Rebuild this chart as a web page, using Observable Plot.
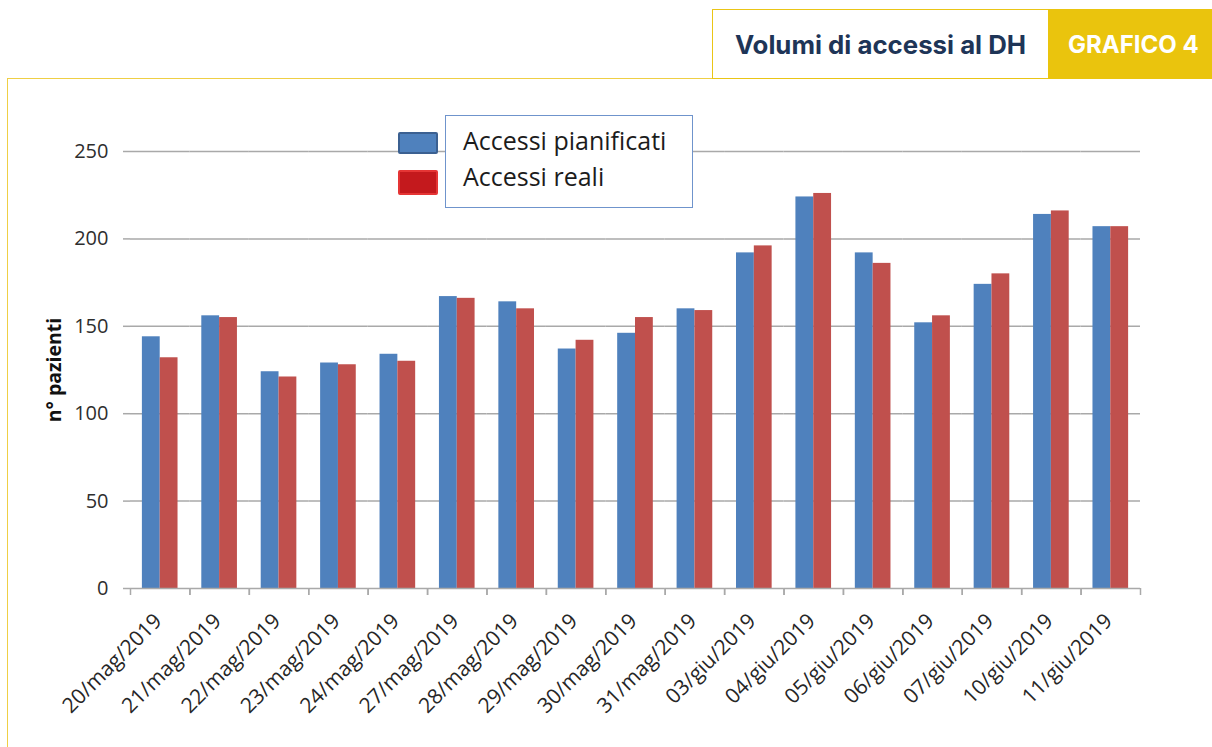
<!DOCTYPE html>
<html>
<head>
<meta charset="utf-8">
<script src="https://cdn.jsdelivr.net/npm/d3@7"></script>
<script src="https://cdn.jsdelivr.net/npm/@observablehq/plot@0.6"></script>
<style>
  html, body { margin: 0; padding: 0; background: #fff; }
  #page { position: relative; width: 1212px; height: 747px; overflow: hidden; background: #fff; }
  #frame { position: absolute; left: 7px; top: 78px; width: 1230px; height: 700px; border: 1.5px solid #efcf45; box-sizing: border-box; }
  #titlebox { position: absolute; left: 712px; top: 9px; width: 337px; height: 70px; border: 1.5px solid #eac516; box-sizing: border-box; background: #fff;
    font-family: Inter, "Open Sans", sans-serif; font-weight: 700; font-size: 25.8px; color: #1e3557; display: flex; align-items: center; justify-content: center; }
  #tag { position: absolute; left: 1048px; top: 9px; width: 170px; height: 70px; background: #eac40d;
    font-family: Inter, "Open Sans", sans-serif; font-weight: 700; font-size: 24px; color: #fff; display: flex; align-items: center; padding-left: 20px; box-sizing: border-box; }
  #chart { position: absolute; left: 0; top: 0; }
  #legend { position: absolute; left: 445px; top: 115px; width: 248px; height: 93px; border: 1.5px solid #6f94cc; box-sizing: border-box; background: #fff;
    font-family: "Open Sans", sans-serif; font-size: 25px; color: #1c1c1c; }
  .lt { position: absolute; left: 17px; white-space: nowrap; line-height: 1; }
  .sw { position: absolute; left: 398px; width: 40px; box-sizing: border-box; border-radius: 2px; }
</style>
</head>
<body>
<div id="page">
  <div id="frame"></div>
  <div id="chart"></div>
  <div id="titlebox">Volumi di accessi al DH</div>
  <div id="tag">GRAFICO 4</div>
  <div id="legendwrap"></div>
</div>
<script>
const dates = ["20/mag/2019","21/mag/2019","22/mag/2019","23/mag/2019","24/mag/2019","27/mag/2019","28/mag/2019","29/mag/2019","30/mag/2019","31/mag/2019","03/giu/2019","04/giu/2019","05/giu/2019","06/giu/2019","07/giu/2019","10/giu/2019","11/giu/2019"];
const planned = [144,156,124,129,134,167,164,137,146,160,192,224,192,152,174,214,207];
const real    = [132,155,121,128,130,166,160,142,155,159,196,226,186,156,180,216,207];
const seriesNames = ["Accessi pianificati","Accessi reali"];
const barColors = ["#4f81bd","#c0504d"];
const legendColors = ["#4f81bd","#c4191d"];
const yTicks = [0,50,100,150,200,250];
const yLabel = "n° pazienti";

const data = [];
dates.forEach((d, i) => {
  data.push({date: d, series: seriesNames[0], value: planned[i]});
  data.push({date: d, series: seriesNames[1], value: real[i]});
});

const W = 1212, H = 747, mL = 130, mR = 72, mT = 151, mB = 159;
const step = (W - mL - mR) / dates.length;
const grid = "#a9a9a9";

const plot = Plot.plot({
  width: W, height: H,
  marginLeft: mL, marginRight: mR, marginTop: mT, marginBottom: mB,
  style: {fontFamily: "'Open Sans', sans-serif", background: "transparent", color: "#333"},
  fx: {domain: dates, padding: 0, round: false, axis: null, label: null},
  x: {domain: seriesNames, paddingInner: 0, paddingOuter: 0.667, round: false, axis: null},
  y: {domain: [0, 250], axis: null},
  color: {domain: seriesNames, range: barColors},
  marks: [
    Plot.gridY(yTicks.filter(t => t > 0), {stroke: grid, strokeOpacity: 1, strokeWidth: 1.5}),
    Plot.barY(data, {fx: "date", x: "series", y: "value", fill: "series"}),
    Plot.ruleY([0], {stroke: grid, strokeWidth: 1.5}),
    Plot.axisY({ticks: yTicks, tickSize: 7, tickPadding: 15, fontSize: 20, stroke: grid, strokeWidth: 1.5, fill: "#2e2e2e", label: null, line: true}),
    Plot.axisY({ticks: [], tickSize: 0, label: yLabel, labelAnchor: "center", labelArrow: "none", labelOffset: 83, fontSize: 19.5, fontWeight: "bold", fill: "#111"}),
    Plot.axisFx({anchor: "bottom", tickSize: 0, tickPadding: 29, dx: -2, tickRotate: -45, fontSize: 21, fill: "#262626", label: null}),
    Plot.axisFx({anchor: "bottom", tickSize: 7, tickFormat: () => "", dx: -step / 2, stroke: grid, strokeWidth: 1.5, label: null}),
    Plot.axisFx({anchor: "bottom", tickSize: 7, tickFormat: () => "", dx: step / 2, stroke: grid, strokeWidth: 1.5, label: null})
  ]
});
document.getElementById("chart").appendChild(plot);

// legend
const wrap = document.getElementById("legendwrap");
const sw1 = document.createElement("div");
sw1.className = "sw"; sw1.style.top = "132px"; sw1.style.height = "22px";
sw1.style.background = legendColors[0]; sw1.style.border = "2px solid #3b6091";
const sw2 = document.createElement("div");
sw2.className = "sw"; sw2.style.top = "170px"; sw2.style.height = "25px";
sw2.style.background = legendColors[1]; sw2.style.border = "2px solid #e53535";
const box = document.createElement("div");
box.id = "legend";
seriesNames.forEach((s, i) => {
  const t = document.createElement("div");
  t.className = "lt"; t.textContent = s; t.style.top = (i === 0 ? 12 : 48) + "px";
  box.appendChild(t);
});
wrap.appendChild(sw1); wrap.appendChild(sw2); wrap.appendChild(box);
</script>
</body>
</html>
